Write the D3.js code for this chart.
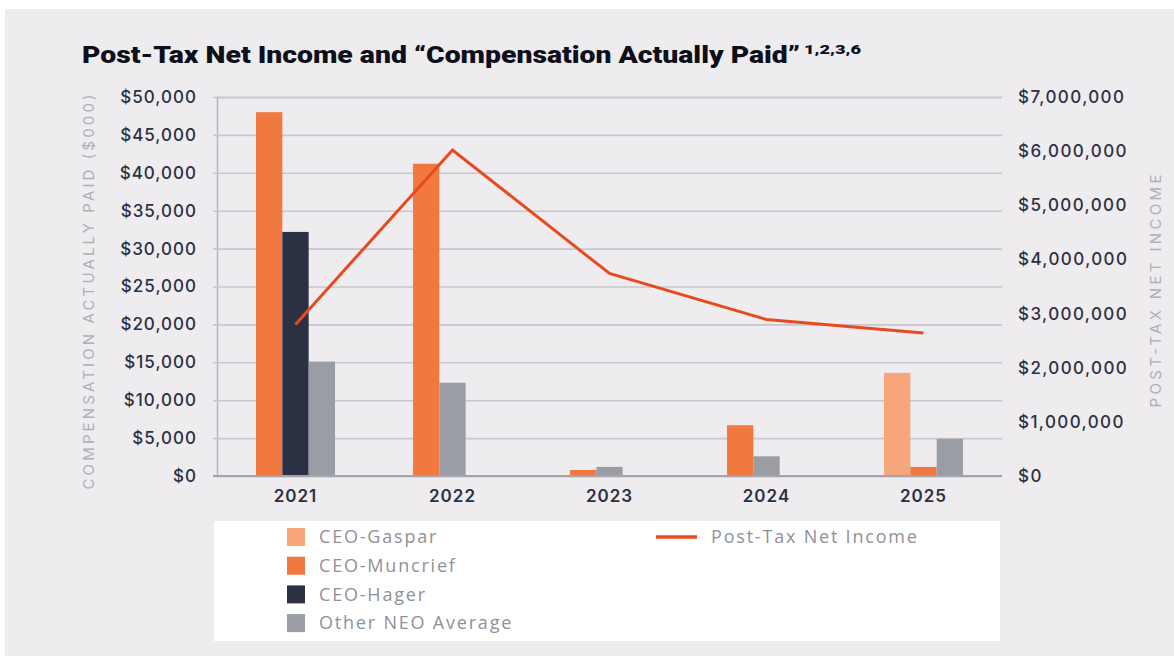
<!DOCTYPE html>
<html>
<head>
<meta charset="utf-8">
<script src="https://cdn.jsdelivr.net/npm/d3@7"></script>
<style>
  html, body { margin: 0; padding: 0; background: #ffffff; }
  svg { display: block; }
</style>
</head>
<body>
<div id="chart"></div>
<script>
// Data
const years = ['2021', '2022', '2023', '2024', '2025'];
const seriesNames = ['CEO-Gaspar', 'CEO-Muncrief', 'CEO-Hager', 'Other NEO Average'];
// compensation actually paid, $000 (null = not shown that year)
const gaspar   = [null, null, null, null, 13600];
const muncrief = [48000, 41200, 800, 6700, 1200];
const hager    = [32200, null, null, null, null];
const otherNeo = [15100, 12300, 1200, 2600, 4900];
// post-tax net income, $
const netIncome = [2800000, 6020000, 3740000, 2890000, 2640000];
const leftTicks = [0, 5000, 10000, 15000, 20000, 25000, 30000, 35000, 40000, 45000, 50000];
const rightTicks = [0, 1000000, 2000000, 3000000, 4000000, 5000000, 6000000, 7000000];

const colors = {
  'CEO-Gaspar': '#f7a67c',
  'CEO-Muncrief': '#f1783f',
  'CEO-Hager': '#2b3143',
  'Other NEO Average': '#9b9da5'
};
const lineColor = '#e84a1f';

const width = 1174, height = 656;
const svg = d3.select('#chart').append('svg')
  .attr('width', width)
  .attr('height', height);

// panel background
svg.append('rect')
  .attr('x', 5).attr('y', 9)
  .attr('width', width - 5).attr('height', height - 9)
  .attr('fill', '#efecf0');

// title
svg.append('text')
  .attr('x', 82).attr('y', 63)
  .attr('font-family', 'Roboto, sans-serif')
  .attr('font-weight', 900)
  .attr('font-size', 24)
  .attr('fill', '#0d0f1a')
  .attr('textLength', 718)
  .attr('lengthAdjust', 'spacingAndGlyphs')
  .text('Post-Tax Net Income and “Compensation Actually Paid”');
svg.append('text')
  .attr('x', 804).attr('y', 54)
  .attr('font-family', 'Roboto, sans-serif')
  .attr('font-weight', 900)
  .attr('font-size', 13)
  .attr('fill', '#0d0f1a')
  .attr('textLength', 57)
  .attr('lengthAdjust', 'spacingAndGlyphs')
  .text('1,2,3,6');

// scales
const x = d3.scaleBand().domain(years).range([217, 1002]);
const slot = d3.scaleBand().domain([0, 1, 2]).range([-39.5, 39.5]);
const yL = d3.scaleLinear().domain([0, 50000]).range([476, 97]);
const yR = d3.scaleLinear().domain([0, 7000000]).range([476, 97]);

const tickFont = sel => sel
  .attr('font-family', 'Inter, sans-serif')
  .attr('font-weight', 500)
  .attr('font-size', 17)
  .attr('letter-spacing', 1)
  .attr('fill', '#2b3142');

// gridlines + left axis
const leftAxis = d3.axisLeft(yL)
  .tickValues(leftTicks)
  .tickSize(-(1002 - 217))
  .tickPadding(20)
  .tickFormat(d => '$' + d3.format(',')(d));
const gL = svg.append('g')
  .attr('transform', 'translate(217,0)')
  .call(leftAxis);
gL.select('.domain').attr('stroke', '#b4b4ba').attr('stroke-width', 1.5);
gL.selectAll('.tick line')
  .attr('x1', -4)
  .attr('stroke', '#c7c7cd')
  .attr('stroke-width', 1.6);
gL.selectAll('.tick text').call(tickFont);

// right axis (labels only, ticks overlap gridlines)
const rightAxis = d3.axisRight(yR)
  .tickValues(rightTicks)
  .tickSize(0)
  .tickPadding(16)
  .tickFormat(d => '$' + d3.format(',')(d));
const gR = svg.append('g')
  .attr('transform', 'translate(1002,0)')
  .call(rightAxis);
gR.select('.domain').remove();
gR.selectAll('.tick text').call(tickFont).attr('letter-spacing', 1.4);

// bars
const barData = [];
years.forEach((yr, i) => {
  const vals = [gaspar[i], muncrief[i], hager[i], otherNeo[i]];
  let k = 0;
  vals.forEach((v, s) => {
    if (v == null) return;
    barData.push({ year: yr, series: seriesNames[s], value: v, slot: k });
    k++;
  });
});

svg.append('g').selectAll('rect')
  .data(barData)
  .join('rect')
  .attr('x', d => x(d.year) + x.bandwidth() / 2 + slot(d.slot))
  .attr('y', d => yL(d.value))
  .attr('width', slot.bandwidth())
  .attr('height', d => yL(0) - yL(d.value))
  .attr('fill', d => colors[d.series]);

// baseline
svg.append('line')
  .attr('x1', 213).attr('x2', 1002)
  .attr('y1', yL(0)).attr('y2', yL(0))
  .attr('stroke', '#a3a5ab')
  .attr('stroke-width', 2);

// x labels
const xAxis = d3.axisBottom(x).tickSize(0).tickPadding(14);
const gX = svg.append('g')
  .attr('transform', `translate(0,${yL(0)})`)
  .call(xAxis);
gX.select('.domain').remove();
gX.selectAll('.tick text')
  .call(tickFont)
  .attr('font-weight', 600);

// net income line
const line = d3.line()
  .x((d, i) => x(years[i]) + x.bandwidth() / 2)
  .y(d => yR(d));
svg.append('path')
  .datum(netIncome)
  .attr('d', line)
  .attr('fill', 'none')
  .attr('stroke', lineColor)
  .attr('stroke-width', 3);

// axis titles
svg.append('text')
  .attr('transform', 'translate(94,292) rotate(-90)')
  .attr('text-anchor', 'middle')
  .attr('font-family', 'Inter, sans-serif')
  .attr('font-size', 15)
  .attr('fill', '#aeb0b6')
  .attr('textLength', 395)
  .attr('lengthAdjust', 'spacing')
  .text('COMPENSATION ACTUALLY PAID ($000)');

svg.append('text')
  .attr('transform', 'translate(1161,291) rotate(-90)')
  .attr('text-anchor', 'middle')
  .attr('font-family', 'Inter, sans-serif')
  .attr('font-size', 15)
  .attr('fill', '#aeb0b6')
  .attr('textLength', 233)
  .attr('lengthAdjust', 'spacing')
  .text('POST-TAX NET INCOME');

// legend
const legendFont = sel => sel
  .attr('font-family', '"Open Sans", sans-serif')
  .attr('font-size', 18)
  .attr('letter-spacing', 1.8)
  .attr('fill', '#8f9198');

const legend = svg.append('g');
legend.append('rect')
  .attr('x', 214).attr('y', 521)
  .attr('width', 786).attr('height', 120)
  .attr('fill', '#ffffff');

const legendRows = legend.selectAll('g.item')
  .data(seriesNames)
  .join('g')
  .attr('class', 'item')
  .attr('transform', (d, i) => `translate(287,${537 + i * 28.7})`);
legendRows.append('rect')
  .attr('x', 0).attr('y', -9)
  .attr('width', 18).attr('height', 18)
  .attr('fill', d => colors[d]);
legendRows.append('text')
  .attr('x', 32).attr('y', 0)
  .attr('dy', '0.35em')
  .call(legendFont)
  .text(d => d);

legend.append('line')
  .attr('x1', 656).attr('x2', 697)
  .attr('y1', 537).attr('y2', 537)
  .attr('stroke', lineColor)
  .attr('stroke-width', 3.5);
legend.append('text')
  .attr('x', 711).attr('y', 537)
  .attr('dy', '0.35em')
  .call(legendFont)
  .text('Post-Tax Net Income');
</script>
</body>
</html>
